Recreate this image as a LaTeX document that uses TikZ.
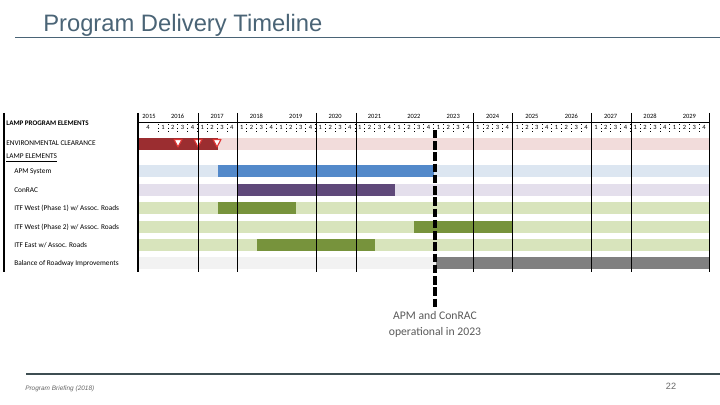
\documentclass[tikz,border=0pt]{standalone}
\usepackage{fontspec}
\setmainfont{Carlito}
\newfontfamily\arialfont{Liberation Sans}
\usetikzlibrary{positioning}
\definecolor{slate}{RGB}{74,100,118}
\definecolor{footrule}{RGB}{62,78,82}
\definecolor{envdark}{RGB}{155,45,48}
\definecolor{envlight}{RGB}{242,220,219}
\definecolor{apmdark}{RGB}{83,137,202}
\definecolor{apmlight}{RGB}{220,230,241}
\definecolor{condark}{RGB}{95,73,122}
\definecolor{conlight}{RGB}{228,223,236}
\definecolor{itfdark}{RGB}{119,147,60}
\definecolor{itflight}{RGB}{216,228,188}
\definecolor{baldark}{RGB}{128,128,128}
\definecolor{ballight}{RGB}{242,242,242}
\definecolor{milestone}{RGB}{224,52,52}

\begin{document}
\begin{tikzpicture}[x=0.025cm,y=-0.025cm,
    rowlbl/.style={anchor=west,inner sep=0pt,font=\fontsize{5.2}{6}\selectfont},
    hdr/.style={inner sep=0pt,font=\fontsize{4.6}{5}\selectfont},
    note/.style={inner sep=0pt,align=center,text=black!65,font=\fontsize{8.3}{11.2}\selectfont}]
\useasboundingbox (0,0) rectangle (720,405);

\node[anchor=base west,inner sep=0pt,text=slate,font=\arialfont\fontsize{16.9}{20}\selectfont] (title) at (43,32) {Program Delivery Timeline};
\draw[slate,line width=0.7pt] (15,37) -- (720,37);

\node[rowlbl,font=\bfseries\fontsize{5}{6}\selectfont] (lblHead) at (6,123) {LAMP PROGRAM ELEMENTS};
\node[rowlbl] (lblEnv) at (6,143) {ENVIRONMENTAL CLEARANCE};
\node[rowlbl] (lblLamp) at (6,158) {\underline{LAMP ELEMENTS}};
\node[rowlbl] (lblApm) at (14,172) {APM System};
\node[rowlbl] (lblCon) at (14,190) {ConRAC};
\node[rowlbl] (lblWest1) at (14,208) {ITF West (Phase 1) w/ Assoc. Roads};
\node[rowlbl] (lblWest2) at (14,227) {ITF West (Phase 2) w/ Assoc. Roads};
\node[rowlbl] (lblEast) at (14,245) {ITF East w/ Assoc. Roads};
\node[rowlbl] (lblBal) at (14,264) {Balance of Roadway Improvements};

\foreach \yt/\lc/\dc/\xa/\xb in {138/envlight/envdark/139/218,165/apmlight/apmdark/218/434,
    184/conlight/condark/237/395,202/itflight/itfdark/218/296,221/itflight/itfdark/414/512,
    239/itflight/itfdark/257/375,257/ballight/baldark/436/709}{
  \fill[\lc] (139,\yt) rectangle (709,\yt+12);
  \fill[\dc] (\xa,\yt) rectangle (\xb,\yt+12);
}
\foreach \x in {178,198,217}
  \draw[milestone,fill=white,line width=0.8pt,line join=round] (\x-4,139.5) -- (\x+4,139.5) -- (\x,147) -- cycle;

\node[hdr] (y2015) at (149,116) {2015};
\node[hdr] (q2015) at (148,127) {4};
\foreach \i in {0,...,13}{
  \pgfmathtruncatemacro{\yr}{2016+\i}
  \node[hdr] (y\yr) at ({177.7+39.36*\i},116) {\yr};
  \foreach \q in {1,...,4}
    \node[hdr] at ({158+39.36*\i+9.84*(\q-0.5)},127) {\q};
}
\foreach \k in {0,...,55}
  \draw[line width=0.3pt,dotted] ({158+9.84*\k},124.5) -- ({158+9.84*\k},131);
\draw[line width=0.6pt] (138,122.5) -- (709,122.5);

\foreach \x in {198,237,316,356,473,512,591,631,709}
  \draw[line width=0.6pt] (\x,113) -- (\x,272);
\draw[line width=1.2pt] (138,113) -- (138,272);
\draw[line width=0.8pt] (4,113) -- (4,272);

\coordinate (today) at (435,130);
\node[note,anchor=north] (apmnote) at (435,311) {APM and ConRAC\\operational in 2023};
\draw[line width=2.8pt,dash pattern=on 6pt off 2pt] (today) -- ([yshift=2pt]apmnote.north);

\draw[footrule,line width=1.4pt] (26,374) -- (720,374);
\node[anchor=base west,inner sep=0pt,text=black!60,font=\arialfont\itshape\fontsize{4.6}{5}\selectfont] (footer) at (25,390) {Program Briefing (2018)};
\node[anchor=base,inner sep=0pt,text=black!60,font=\arialfont\fontsize{6.5}{7}\selectfont] (pagenum) at (671,389) {22};
\end{tikzpicture}
\end{document}
